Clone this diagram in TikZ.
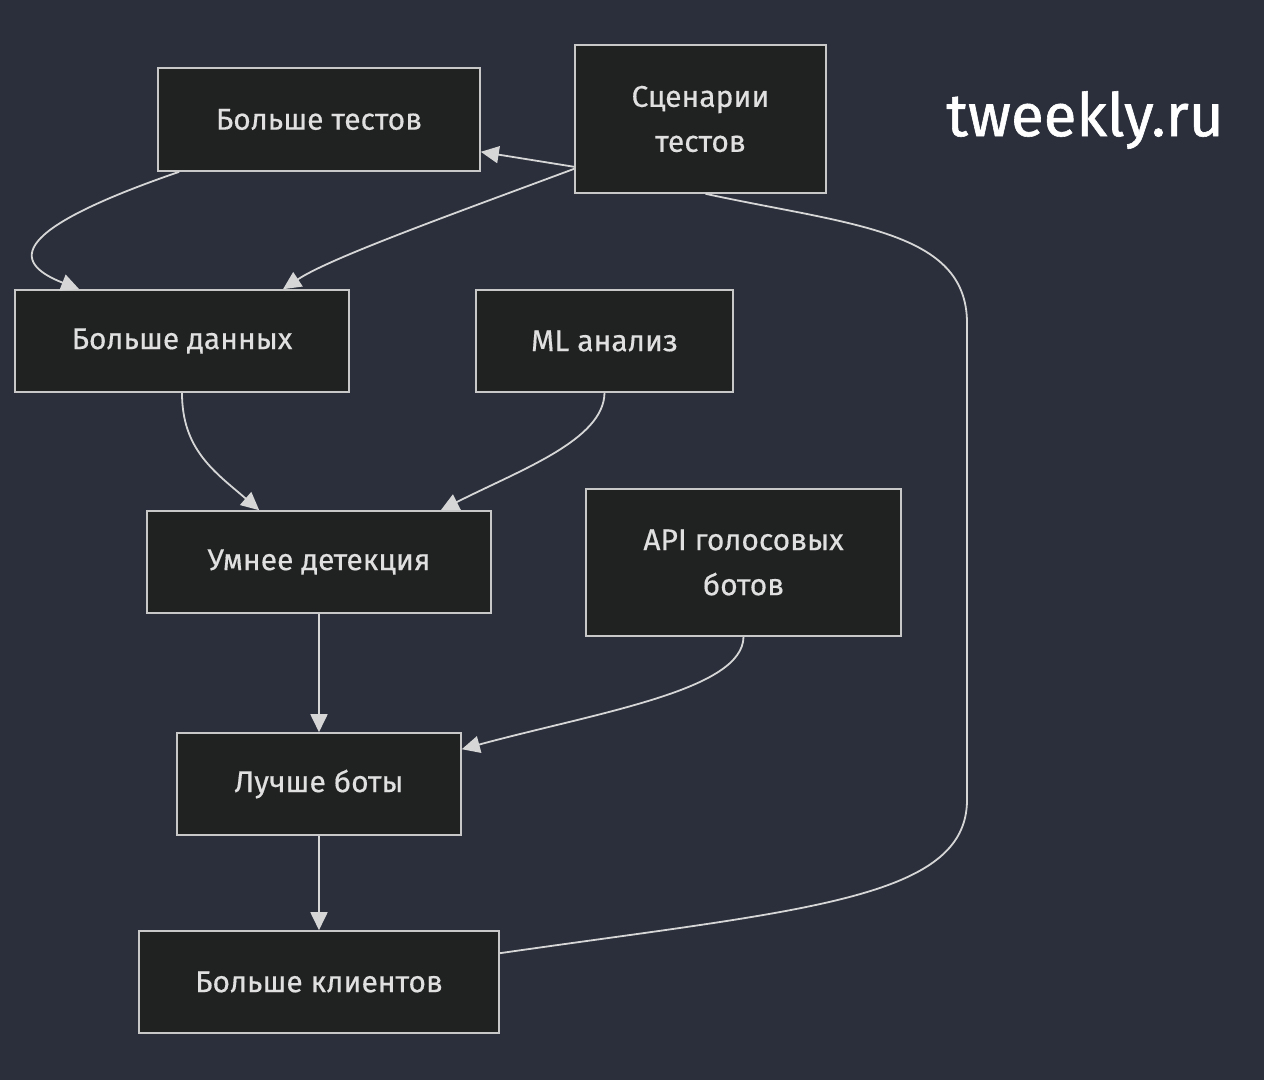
\documentclass[tikz,border=0pt]{standalone}
\usepackage{fontspec}
\setmainfont{Fira Sans}
\newfontfamily\boxfont[FakeBold=0.4]{Fira Sans}
\newfontfamily\logofont[FakeBold=1.0]{Fira Sans}
\usetikzlibrary{arrows.meta}
\definecolor{bgc}{HTML}{2A2F3B}
\definecolor{boxfill}{HTML}{202221}
\definecolor{boxline}{HTML}{C8C8C8}
\definecolor{txt}{HTML}{E0E0E0}
\definecolor{edge}{HTML}{D6D6D6}
\tikzset{
  box/.style={draw=boxline, line width=1.6pt, fill=boxfill, text=txt, inner sep=0pt,
    align=center, font=\boxfont\fontsize{30}{45}\selectfont},
  link/.style={draw=edge, line width=1.8pt},
  arr/.style={link, -{Triangle[length=18pt,width=17pt]}}
}
\begin{document}
\begin{tikzpicture}[x=1pt,y=-1pt]
\fill[bgc] (0,0) rectangle (1264,1080);
\useasboundingbox (0,0) rectangle (1264,1080);

\node[box, minimum width=322pt, minimum height=103pt] (bt) at (319,119.5) {Больше тестов};
\node[box, minimum width=251pt, minimum height=148pt] (sc) at (700.5,119) {Сценарии\\тестов};
\node[box, minimum width=334pt, minimum height=102pt] (bd) at (182,341) {Больше данных};
\node[box, minimum width=257pt, minimum height=102pt] (ml) at (604.5,341) {ML анализ};
\node[box, minimum width=344pt, minimum height=102pt] (ud) at (319,562) {Умнее детекция};
\node[box, minimum width=315pt, minimum height=147pt] (api) at (743.5,562.5) {API голосовых\\ботов};
\node[box, minimum width=284pt, minimum height=102pt] (lb) at (319,784) {Лучше боты};
\node[box, minimum width=360pt, minimum height=102pt] (bk) at (319,982) {Больше клиентов};

\node[text=white, font=\logofont\fontsize{60}{62}\selectfont, inner sep=0pt] (logo) at (1085,120) {tweekly.ru};

% edges
\draw[arr] ([yshift=27pt]sc.south west) -- ([yshift=20pt]bt.south east);
\draw[arr] ([yshift=25pt]sc.south west) .. controls (450,215) and (330,258) .. ([xshift=101pt]bd.north);
\draw[arr] ([xshift=22pt]bt.south west) .. controls (10,230) and (10,262) .. ([xshift=65pt]bd.north west);
\draw[arr] (bd.south) .. controls (182,450) and (215,472) .. ([xshift=113pt]ud.north west);
\draw[arr] (ml.south) .. controls (604,440) and (520,470) .. ([xshift=-51pt]ud.north east);
\draw[arr] (ud.south) -- (lb.north);
\draw[arr] (api.south) .. controls (743,690) and (600,712) .. ([yshift=-17pt]lb.north east);
\draw[arr] (lb.south) -- (bk.north);
\draw[link] ([yshift=-23pt]bk.north east) .. controls (800,910) and (967,900) .. (967,800)
  -- (967,323) .. controls (967,230) and (850,225) .. ([xshift=5pt]sc.south);
\end{tikzpicture}
\end{document}
